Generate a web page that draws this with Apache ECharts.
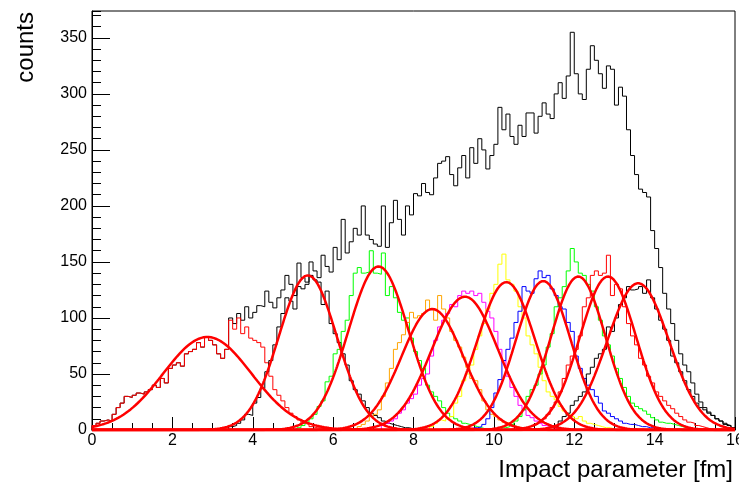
<!DOCTYPE html>
<html>
<head>
<meta charset="utf-8">
<script src="https://cdn.jsdelivr.net/npm/echarts@6/dist/echarts.min.js"></script>
<style>
html,body{margin:0;padding:0;background:#ffffff;}
#chart{width:739px;height:487px;}
</style>
</head>
<body>
<div id="chart"></div>
<script>
// ---------- data ----------
const binWidth = 0.1; // fm
const xTicks = [0, 2, 4, 6, 8, 10, 12, 14, 16];
const yTicks = [0, 50, 100, 150, 200, 250, 300, 350];

// all events
const totalCounts = [
  4, 6, 8, 9, 8, 14, 20, 24, 30, 29,
  31, 33, 32, 34, 36, 40, 38, 46, 42, 55,
  58, 60, 57, 68, 70, 72, 78, 74, 83, 80,
  76, 68, 64, 72, 100, 95, 104, 98, 110, 100,
  105, 111, 110, 124, 114, 109, 118, 125, 138, 130,
  120, 149, 136, 132, 150, 142, 136, 156, 146, 141,
  163, 152, 188, 158, 168, 180, 174, 200, 174, 170,
  166, 164, 200, 163, 185, 205, 188, 174, 200, 192,
  211, 209, 220, 212, 210, 225, 238, 240, 244, 228,
  218, 234, 245, 225, 252, 238, 260, 250, 233, 245,
  255, 288, 268, 282, 262, 255, 272, 262, 283, 283,
  265, 280, 292, 282, 278, 300, 310, 296, 316, 355,
  318, 300, 295, 322, 343, 330, 318, 305, 325, 322,
  290, 306, 298, 268, 245, 228, 215, 212, 208, 178,
  162, 145, 122, 108, 95, 80, 68, 58, 52, 42,
  32, 25, 20, 16, 13, 10, 8, 5, 4, 2
];

// centrality classes: first bin lower edge and counts
const classStart = [0, 3.4, 5.1, 6.6, 7.2, 8.4, 9.5, 10.2, 10.7, 11.5];
const class1Counts = [
  4, 6, 8, 9, 8, 14, 20, 24, 30, 29, 31, 33, 32, 34, 36, 40, 38, 46, 42, 55,
  58, 60, 57, 68, 70, 72, 78, 74, 83, 80, 76, 68, 64, 72,
  98, 90, 100, 86, 92, 82, 80, 78, 74, 60, 48, 36, 31, 26, 20, 15, 12, 9, 6, 5, 3, 2, 2, 1, 1, 1
];
const class2Counts = [
  3, 4, 6, 9, 14, 13, 24, 29, 37, 52, 62, 76, 92, 104, 118, 115, 108, 128, 126, 130,
  138, 134, 132, 112, 124, 95, 86, 78, 68, 58, 44, 36, 32, 26, 20, 15, 13, 11, 8, 6,
  5, 4, 3, 2, 2, 1
];
const class3Counts = [
  2, 4, 7, 10, 14, 21, 26, 43, 48, 68, 72, 88, 98, 120, 140, 145, 140, 141, 160, 140,
  139, 158, 120, 128, 118, 105, 98, 100, 82, 70, 62, 55, 40, 34, 30, 26, 20, 15, 12, 10,
  8, 6, 5, 4, 3, 2, 1
];
const class4Counts = [
  3, 5, 8, 12, 14, 18, 30, 42, 55, 72, 78, 85, 96, 105, 100, 102, 104, 116, 108, 98,
  120, 108, 100, 88, 80, 74, 65, 56, 46, 44, 36, 26, 18, 14, 12, 9, 7, 6, 4, 3, 2, 1
];
const class5Counts = [
  4, 6, 8, 10, 15, 18, 24, 28, 32, 40, 46, 50, 66, 80, 92, 98, 104, 112, 110, 120,
  124, 122, 124, 120, 122, 114, 106, 100, 88, 72, 62, 48, 38, 30, 22, 18, 13, 11, 8, 6,
  4, 3, 2, 1
];
const class6Counts = [
  3, 6, 9, 8, 10, 12, 24, 30, 44, 50, 58, 72, 84, 95, 108, 122, 130, 148, 157, 134,
  130, 124, 110, 100, 84, 76, 68, 56, 44, 34, 30, 27, 21, 17, 14, 12, 10, 12, 8, 6,
  5, 4, 3, 2, 2, 1
];
const class7Counts = [
  2, 3, 5, 10, 20, 33, 45, 62, 72, 82, 96, 106, 128, 124, 122, 135, 142, 136, 138, 126,
  120, 110, 108, 96, 88, 66, 55, 46, 40, 36, 30, 24, 17, 15, 12, 10, 8, 6, 5, 5,
  4, 3, 3, 2, 2, 1
];
const class8Counts = [
  2, 3, 5, 8, 12, 18, 30, 36, 40, 50, 58, 74, 86, 110, 118, 128, 142, 162, 150, 140,
  138, 130, 124, 110, 98, 84, 76, 66, 55, 46, 38, 30, 24, 21, 19, 17, 14, 11, 9, 7,
  6, 6, 5, 4, 3, 2, 1
];
const class9Counts = [
  2, 3, 4, 5, 7, 10, 14, 20, 25, 34, 46, 58, 66, 72, 84, 110, 118, 138, 142, 138,
  140, 156, 120, 130, 126, 110, 95, 84, 76, 64, 58, 48, 42, 34, 30, 26, 22, 19, 15, 12,
  9, 7, 6, 4, 3, 2, 1
];
const class10Counts = [
  3, 8, 12, 15, 22, 26, 30, 34, 50, 56, 64, 68, 72, 92, 88, 100, 112, 118, 128, 125,
  126, 128, 122, 134, 118, 108, 98, 90, 80, 66, 60, 52, 44, 36, 30, 24, 20, 18, 15, 13,
  10, 8, 6, 4, 2
];
const classColors = ['#ff0000', '#000000', '#00ff00', '#ffa500', '#ff00ff',
                     '#ffff00', '#0000ff', '#00ff00', '#ff0000', '#000000'];

// Gaussian fit parameters of each class
const fitAmplitude = [83, 138, 146, 108, 119, 132, 133, 137, 137, 131];
const fitMean      = [2.87, 5.37, 7.13, 8.47, 9.28, 10.31, 11.23, 12.10, 12.84, 13.59];
const fitSigma     = [1.10, 0.72, 0.75, 0.77, 0.82, 0.72, 0.68, 0.68, 0.70, 0.77];

// ---------- build series ----------
const classCounts = [class1Counts, class2Counts, class3Counts, class4Counts, class5Counts,
                     class6Counts, class7Counts, class8Counts, class9Counts, class10Counts];

function histData(start, counts) {
  const d = [[start, 0]];
  counts.forEach((v, i) => d.push([+(start + i * binWidth).toFixed(3), v]));
  d.push([+(start + counts.length * binWidth).toFixed(3), 0]);
  return d;
}
function fitData(a, m, s) {
  const d = [];
  for (let k = 0; k <= 800; k++) {
    const x = k * 0.02;
    d.push([x, a * Math.exp(-((x - m) * (x - m)) / (2 * s * s))]);
  }
  return d;
}

const series = [];
series.push({
  type: 'line', step: 'end', data: histData(0, totalCounts),
  showSymbol: false, symbol: 'none', z: 2, silent: true,
  lineStyle: { color: '#000000', width: 1 }
});
classCounts.forEach((c, i) => {
  series.push({
    type: 'line', step: 'end', data: histData(classStart[i], c),
    showSymbol: false, symbol: 'none', z: 3, silent: true,
    lineStyle: { color: classColors[i], width: 1 }
  });
});
fitAmplitude.forEach((a, i) => {
  series.push({
    type: 'line', data: fitData(a, fitMean[i], fitSigma[i]),
    showSymbol: false, symbol: 'none', z: 5, silent: true,
    lineStyle: { color: '#ff0000', width: 2.5 }
  });
});

const FONT = '"Liberation Sans", Arial, Helvetica, sans-serif';
const chart = echarts.init(document.getElementById('chart'), null, { renderer: 'canvas' });
chart.setOption({
  animation: false,
  backgroundColor: '#ffffff',
  grid: { left: 92, right: 4, top: 11, bottom: 57, show: true, borderColor: '#000', borderWidth: 1,
          containLabel: false, outerBoundsMode: 'none' },
  xAxis: [
    { type: 'value', min: xTicks[0], max: xTicks[xTicks.length - 1], interval: xTicks[1] - xTicks[0],
      position: 'bottom',
      axisLine: { show: true, lineStyle: { color: '#000', width: 1 } },
      axisTick: { show: true, inside: true, length: 13, lineStyle: { color: '#000', width: 1 } },
      axisLabel: { show: true, color: '#000', fontSize: 16, fontFamily: FONT, margin: 3 },
      splitLine: { show: false } },
    { type: 'value', min: xTicks[0], max: xTicks[xTicks.length - 1], interval: 0.5,
      position: 'bottom',
      axisLine: { show: false },
      axisTick: { show: true, inside: true, length: 7, lineStyle: { color: '#000', width: 1 } },
      axisLabel: { show: false }, splitLine: { show: false } }
  ],
  yAxis: [
    { type: 'value', min: 0, max: 374, interval: yTicks[1] - yTicks[0], position: 'left',
      axisLine: { show: true, lineStyle: { color: '#000', width: 1 } },
      axisTick: { show: true, inside: true, length: 18, lineStyle: { color: '#000', width: 1 } },
      axisLabel: { show: true, color: '#000', fontSize: 16, fontFamily: FONT, margin: 5,
                   showMaxLabel: false,
                   formatter: v => (yTicks.indexOf(v) >= 0 ? String(v) : '') },
      splitLine: { show: false } },
    { type: 'value', min: 0, max: 374, interval: 10, position: 'left',
      axisLine: { show: false },
      axisTick: { show: true, inside: true, length: 9, lineStyle: { color: '#000', width: 1 } },
      axisLabel: { show: false }, splitLine: { show: false } }
  ],
  graphic: [
    { type: 'text', x: 38, y: 12, rotation: Math.PI / 2, silent: true,
      style: { text: 'counts', font: '24px ' + FONT, fill: '#000',
               textAlign: 'right', textVerticalAlign: 'bottom' } },
    { type: 'text', x: 733, y: 482, silent: true,
      style: { text: 'Impact parameter [fm]', font: '24px ' + FONT, fill: '#000',
               textAlign: 'right', textVerticalAlign: 'bottom' } }
  ],
  series: series
});
</script>
</body>
</html>
